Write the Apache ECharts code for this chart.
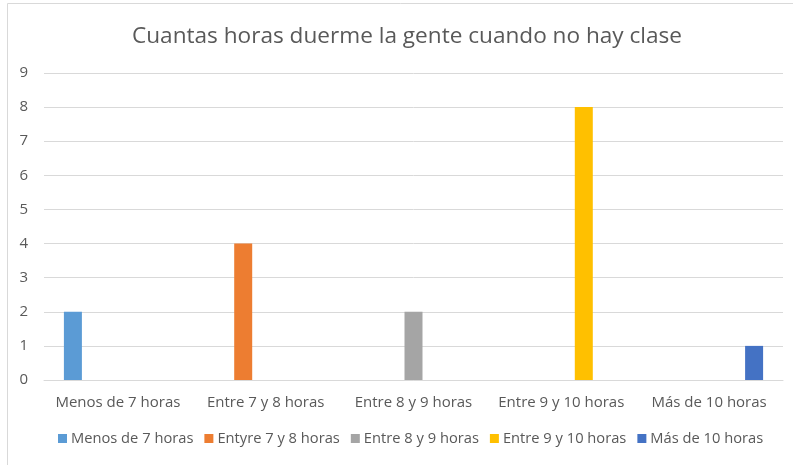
<!DOCTYPE html>
<html>
<head>
    <meta charset="utf-8">
    <title>Cuantas horas duerme la gente cuando no hay clase</title>
    <script src="https://cdn.jsdelivr.net/npm/echarts@6/dist/echarts.min.js"></script>
    <style>
        html, body { margin: 0; padding: 0; background: #fff; }
    </style>
</head>
<body>
    <div id="main" style="width: 793px;height:465px;"></div>
    <script type="text/javascript">
        var myChart = echarts.init(document.getElementById('main'));

        // categorias del eje x
        const categories = ['Menos de 7 horas', 'Entre 7 y 8 horas', 'Entre 8 y 9 horas', 'Entre 9 y 10 horas', 'Más de 10 horas'];
        // nombres de las series (leyenda)
        const seriesNames = ['Menos de 7 horas', 'Entyre 7 y 8 horas', 'Entre 8 y 9 horas', 'Entre 9 y 10 horas', 'Más de 10 horas'];
        // cada serie solo tiene valor en su categoria
        const menos7 = [2, '-', '-', '-', '-'];
        const entre7y8 = ['-', 4, '-', '-', '-'];
        const entre8y9 = ['-', '-', 2, '-', '-'];
        const entre9y10 = ['-', '-', '-', 8, '-'];
        const mas10 = ['-', '-', '-', '-', 1];
        const colors = ['#5b9bd5', '#ed7d31', '#a5a5a5', '#ffc000', '#4472c4'];

        const values = [menos7, entre7y8, entre8y9, entre9y10, mas10];
        const font = 'Open Sans, Lato, sans-serif';

        var option = {
            color: colors,
            title: {
                text: 'Cuantas horas duerme la gente cuando no hay clase',
                left: 127,
                top: 20,
                textStyle: {
                    color: '#595959',
                    fontSize: 22.6,
                    fontWeight: 'normal',
                    fontFamily: font
                }
            },
            graphic: [{
                type: 'rect',
                shape: { x: 7.5, y: 3.5, width: 800, height: 500 },
                style: { fill: 'none', stroke: '#d9d9d9', lineWidth: 1 },
                silent: true
            }],
            legend: {
                bottom: 14,
                left: 53,
                itemWidth: 9,
                itemHeight: 9,
                itemGap: 11,
                icon: 'rect',
                textStyle: { color: '#595959', fontSize: 14.7, fontFamily: font, padding: [0, 0, 0, -1] },
                data: seriesNames
            },
            grid: {
                left: 44,
                right: 10,
                top: 73,
                bottom: 85,
                containLabel: false
            },
            xAxis: {
                type: 'category',
                data: categories,
                axisTick: { show: false },
                axisLine: { lineStyle: { color: '#d9d9d9' } },
                axisLabel: { color: '#595959', fontSize: 15, fontFamily: font, margin: 15, interval: 0 }
            },
            yAxis: {
                type: 'value',
                min: 0,
                max: 9,
                interval: 1,
                axisLabel: { color: '#595959', fontSize: 15, fontFamily: font, margin: 16 },
                splitLine: { lineStyle: { color: '#d9d9d9' } }
            },
            series: values.map((v, i) => ({
                name: seriesNames[i],
                type: 'bar',
                data: v,
                barWidth: 18,
                barGap: '25%',
                barCategoryGap: '27%'
            }))
        };

        myChart.setOption(option);
    </script>
</body>
</html>
